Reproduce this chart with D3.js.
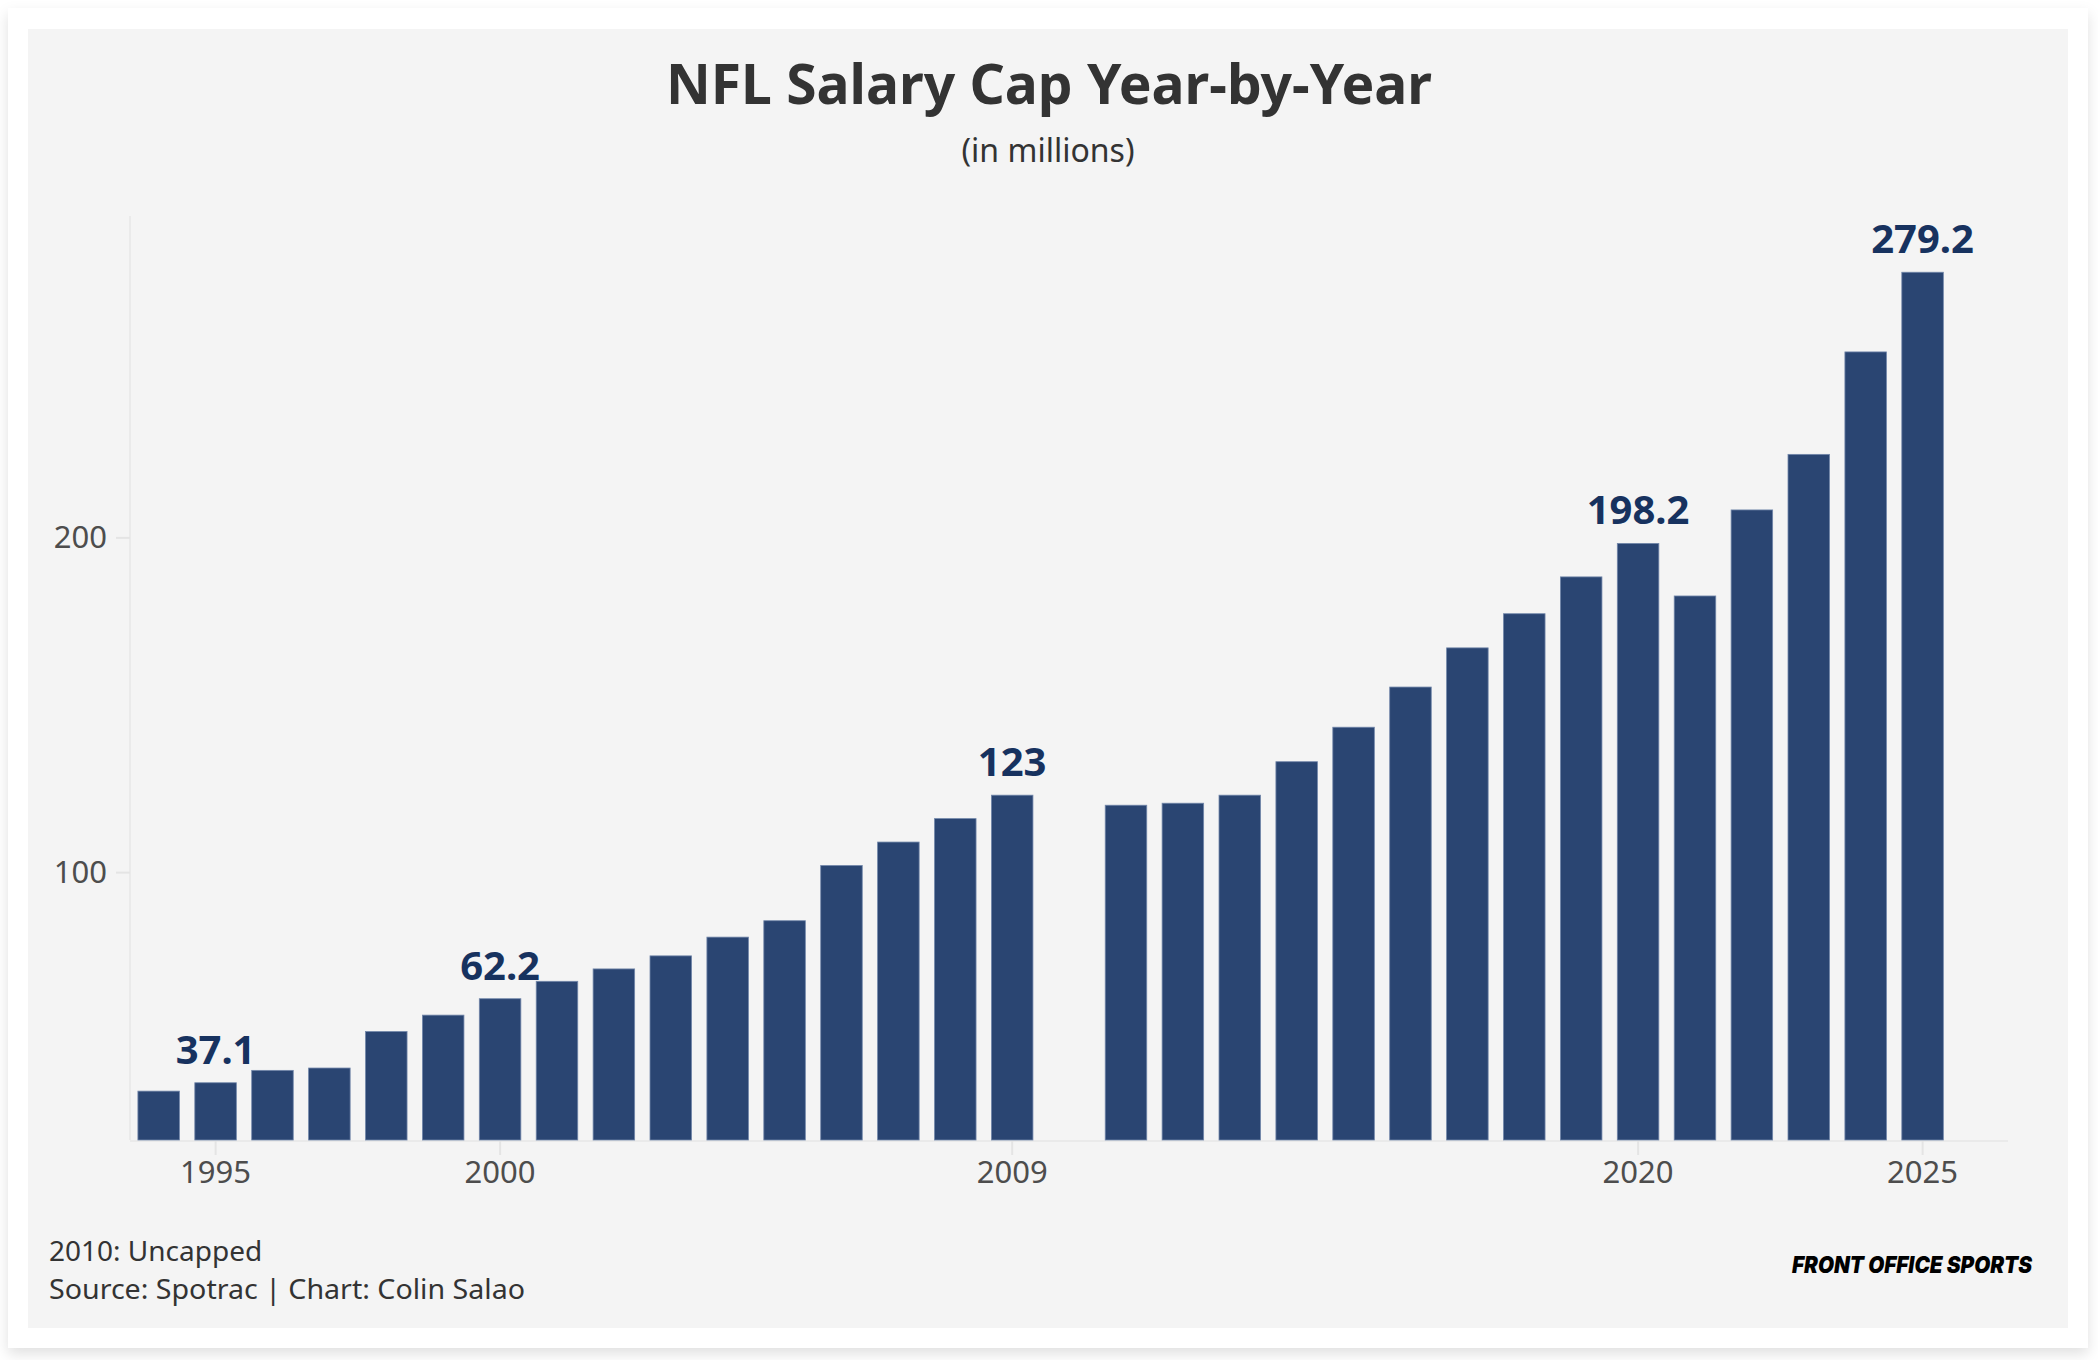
<!DOCTYPE html>
<html>
<head>
<meta charset="utf-8">
<script src="https://cdn.jsdelivr.net/npm/d3@7"></script>
<style>
  html, body { margin: 0; padding: 0; background: #ffffff; }
  svg { display: block; }
</style>
</head>
<body>
<svg id="chart" width="2098" height="1360"></svg>
<script>
// salary cap per season, in millions (2010 had no cap)
const years = d3.range(1994, 2026);
const capYears = [1994, 1995, 1996, 1997, 1998, 1999, 2000, 2001, 2002, 2003, 2004, 2005, 2006, 2007, 2008, 2009,
                  2011, 2012, 2013, 2014, 2015, 2016, 2017, 2018, 2019, 2020, 2021, 2022, 2023, 2024, 2025];
const capValues = [34.6, 37.1, 40.8, 41.5, 52.4, 57.3, 62.2, 67.4, 71.1, 75.0, 80.6, 85.5, 102.0, 109.0, 116.0, 123.0,
                   120.0, 120.6, 123.0, 133.0, 143.3, 155.3, 167.0, 177.2, 188.2, 198.2, 182.5, 208.2, 224.8, 255.4, 279.2];
const labelYears = [1995, 2000, 2009, 2020, 2025];
const xTickYears = [1995, 2000, 2009, 2020, 2025];
const yTickValues = [100, 200];

const capData = capYears.map((y, i) => ({year: y, value: capValues[i]}));

const svg = d3.select("#chart");

const defs = svg.append("defs");
const shadow = defs.append("filter")
  .attr("id", "cardShadow")
  .attr("x", "-5%").attr("y", "-5%")
  .attr("width", "110%").attr("height", "112%");
shadow.append("feDropShadow")
  .attr("dx", 0).attr("dy", 6)
  .attr("stdDeviation", 7)
  .attr("flood-color", "#000")
  .attr("flood-opacity", 0.12);

// white card + grey panel
svg.append("rect")
  .attr("x", 8).attr("y", 8)
  .attr("width", 2080).attr("height", 1340)
  .attr("fill", "#ffffff")
  .attr("filter", "url(#cardShadow)");

svg.append("rect")
  .attr("x", 28).attr("y", 29)
  .attr("width", 2040).attr("height", 1299)
  .attr("fill", "#f4f4f4");

const font = "'Noto Sans', 'Open Sans', sans-serif";

svg.append("text")
  .text("NFL Salary Cap Year-by-Year")
  .attr("x", 1049).attr("y", 104)
  .attr("text-anchor", "middle")
  .attr("textLength", 766)
  .attr("lengthAdjust", "spacingAndGlyphs")
  .attr("font-family", font)
  .attr("font-weight", 700)
  .attr("font-size", "56px")
  .attr("fill", "#333333");

svg.append("text")
  .text("(in millions)")
  .attr("x", 1048).attr("y", 162)
  .attr("text-anchor", "middle")
  .attr("font-family", font)
  .attr("font-size", "32px")
  .attr("fill", "#333333");

// scales
const step = 56.9, pIn = 0.27, pOut = 0.139;
const xLeft = 130;
const x = d3.scaleBand()
  .domain(years)
  .range([xLeft, xLeft + step * (years.length - pIn + 2 * pOut)])
  .paddingInner(pIn)
  .paddingOuter(pOut);

const y = d3.scaleLinear()
  .domain([20, 296])
  .range([1140, 216]);

const axisRight = 2008;

// axis lines
svg.append("line")
  .attr("x1", xLeft).attr("x2", xLeft)
  .attr("y1", y.range()[1]).attr("y2", y.range()[0])
  .attr("stroke", "#eaeaea")
  .attr("stroke-width", 2);

svg.append("line")
  .attr("x1", xLeft).attr("x2", axisRight)
  .attr("y1", y(20) + 1).attr("y2", y(20) + 1)
  .attr("stroke", "#eaeaea")
  .attr("stroke-width", 2);

// y axis
const yAxis = svg.append("g")
  .attr("transform", `translate(${xLeft},0)`)
  .call(d3.axisLeft(y).tickValues(yTickValues).tickSize(14).tickPadding(9));
yAxis.select(".domain").remove();
yAxis.selectAll(".tick line").attr("stroke", "#e4e4e4").attr("stroke-width", 2);
yAxis.selectAll(".tick text")
  .attr("font-family", font)
  .attr("font-size", "31px")
  .attr("fill", "#4d4d4d");

// x axis
const xAxis = svg.append("g")
  .attr("transform", `translate(0,${y(20) + 1})`)
  .call(d3.axisBottom(x).tickValues(xTickYears).tickSize(14).tickPadding(6));
xAxis.select(".domain").remove();
xAxis.selectAll(".tick line").attr("stroke", "#e4e4e4").attr("stroke-width", 2);
xAxis.selectAll(".tick text")
  .attr("font-family", font)
  .attr("font-size", "31px")
  .attr("fill", "#4d4d4d");

// bars
svg.selectAll(".bar")
  .data(capData)
  .join("rect")
  .attr("class", "bar")
  .attr("x", d => x(d.year))
  .attr("y", d => y(d.value))
  .attr("width", x.bandwidth())
  .attr("height", d => y(20) - y(d.value))
  .attr("fill", "#2a4572")
  .attr("stroke", "#7287aa")
  .attr("stroke-width", 0.8);

// value labels
svg.selectAll(".vlabel")
  .data(capData.filter(d => labelYears.includes(d.year)))
  .join("text")
  .attr("class", "vlabel")
  .text(d => d.value)
  .attr("x", d => x(d.year) + x.bandwidth() / 2)
  .attr("y", d => y(d.value) - 19)
  .attr("text-anchor", "middle")
  .attr("font-family", font)
  .attr("font-weight", 700)
  .attr("font-size", "40px")
  .attr("fill", "#17325f");

// footer
svg.append("text")
  .text("2010: Uncapped")
  .attr("x", 49).attr("y", 1261)
  .attr("font-family", font)
  .attr("font-size", "28px")
  .attr("fill", "#333333");

svg.append("text")
  .text("Source: Spotrac | Chart: Colin Salao")
  .attr("x", 49).attr("y", 1299)
  .attr("textLength", 476)
  .attr("lengthAdjust", "spacingAndGlyphs")
  .attr("font-family", font)
  .attr("font-size", "28px")
  .attr("fill", "#333333");

svg.append("text")
  .text("FRONT OFFICE SPORTS")
  .attr("x", 1792).attr("y", 1273)
  .attr("textLength", 240)
  .attr("lengthAdjust", "spacingAndGlyphs")
  .attr("font-family", "Inter, Roboto, sans-serif")
  .attr("font-weight", 900)
  .attr("font-style", "italic")
  .attr("font-size", "23px")
  .attr("fill", "#000000");
</script>
</body>
</html>
